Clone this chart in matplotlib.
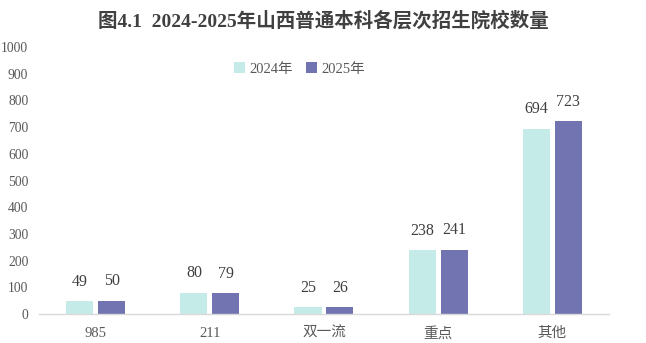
import matplotlib
matplotlib.use("Agg")
import matplotlib.pyplot as plt
import numpy as np

categories = ["985", "211", "双一流", "重点", "其他"]
values_2024 = [49, 80, 25, 238, 694]
values_2025 = [50, 79, 26, 241, 723]
series_names = ["2024年", "2025年"]
yticks = [0, 100, 200, 300, 400, 500, 600, 700, 800, 900, 1000]

fam = ["Liberation Serif", "Noto Sans CJK SC", "DejaVu Sans"]
plt.rcParams["font.family"] = fam

fig = plt.figure(figsize=(6.46, 3.43), dpi=100)
ax = fig.add_axes([0.060, 0.0845, 0.883, 0.7785])

x = np.arange(len(categories))
w = 0.237
off = 0.14
c1 = "#C5EBE9"
c2 = "#7174B0"
b1 = ax.bar(x - off, values_2024, w, color=c1, label=series_names[0])
b2 = ax.bar(x + off, values_2025, w, color=c2, label=series_names[1])

for bars, vals in ((b1, values_2024), (b2, values_2025)):
    for r, v in zip(bars, vals):
        ax.text(r.get_x() + r.get_width() / 2, v + 42, str(v), ha="center", va="bottom",
                fontsize=11.5, color="#404040")

ax.set_xlim(-0.5, len(categories) - 0.5)
ax.set_ylim(0, 1000)
ax.set_yticks(yticks)
ax.set_yticklabels([str(t) for t in yticks], fontsize=9.8, color="#595959")
ax.set_xticks(x)
ax.set_xticklabels(categories, fontsize=10.5, color="#595959")
ax.tick_params(axis="both", length=0)
ax.tick_params(axis="x", pad=9)
ax.tick_params(axis="y", pad=7.5)
for s in ["top", "right", "left"]:
    ax.spines[s].set_visible(False)
ax.spines["bottom"].set_color("#D9D9D9")
ax.spines["bottom"].set_linewidth(1.0)

leg = ax.legend(loc="center left", bbox_to_anchor=(0.343, 0.918), ncol=2, frameon=False,
                fontsize=10.5, handlelength=0.75, handleheight=0.75, handletextpad=0.3,
                columnspacing=0.9, borderaxespad=0, borderpad=0)
for t in leg.get_texts():
    t.set_color("#595959")

fig.text(0.5, 0.94, "图4.1  2024-2025年山西普通本科各层次招生院校数量", ha="center", va="center",
         fontsize=14, fontweight="bold", color="#404040")

fig.savefig("out.png", dpi=100)
